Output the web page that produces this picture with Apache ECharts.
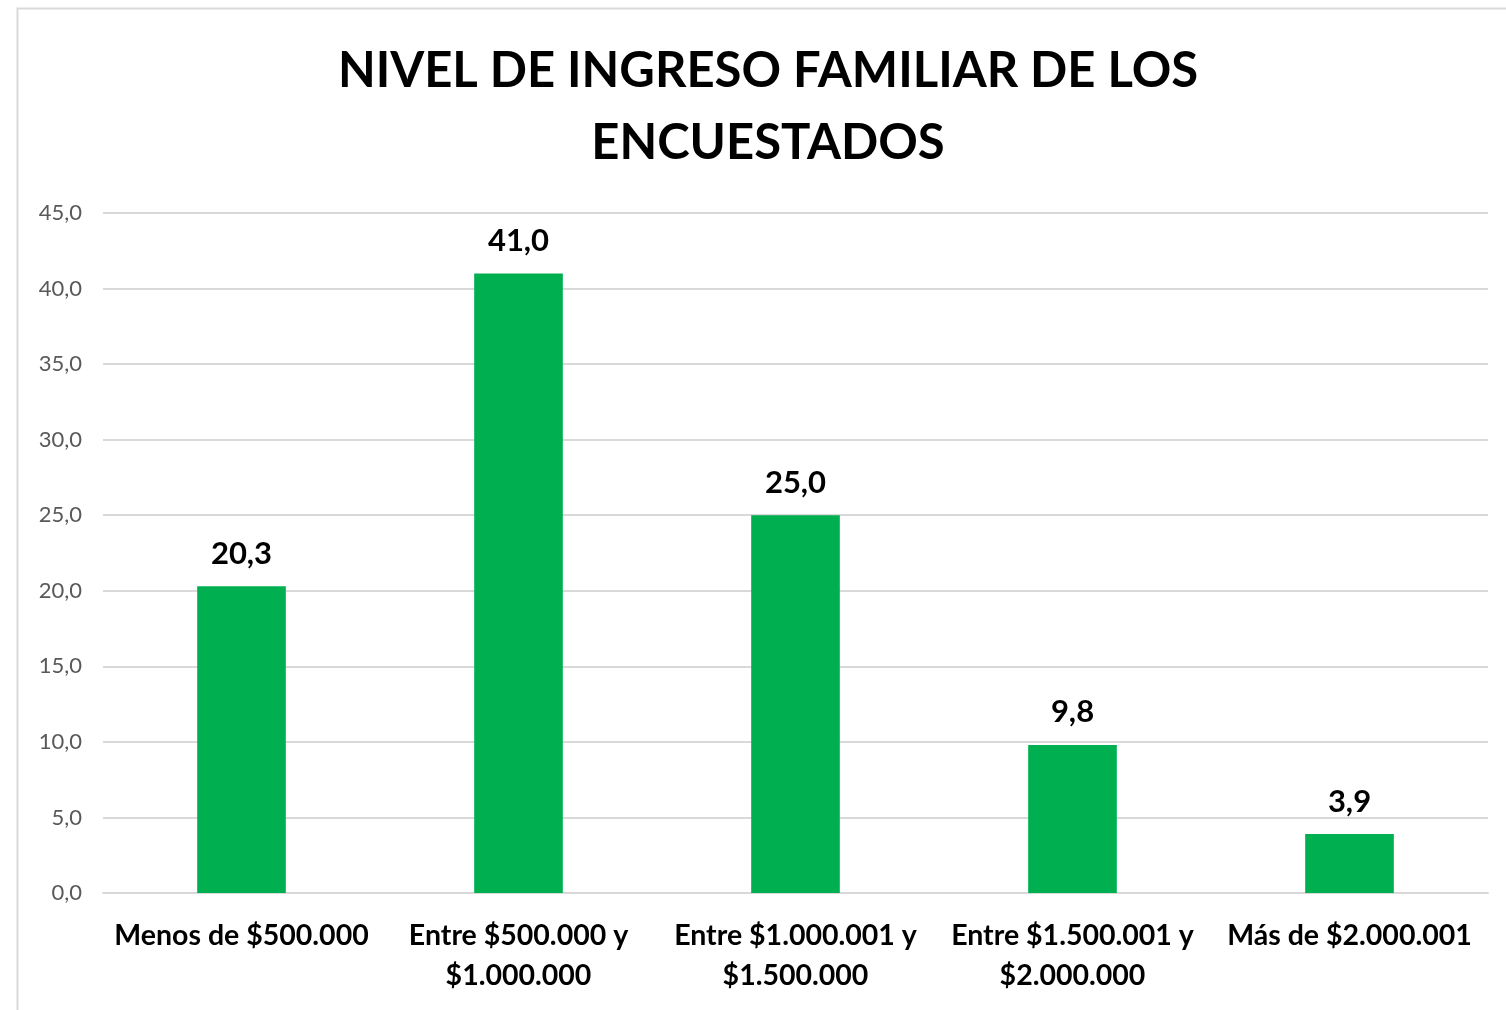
<!DOCTYPE html>
<html><head><meta charset="utf-8">
<script src="https://cdn.jsdelivr.net/npm/echarts@6/dist/echarts.min.js"></script>
<style>html,body{margin:0;padding:0;background:#fff;}#c{width:1506px;height:1010px;}</style>
</head><body><div id="c"></div>
<script>
var titleText = 'NIVEL DE INGRESO FAMILIAR DE LOS\nENCUESTADOS';
var categories = ['Menos de $500.000', 'Entre $500.000 y\n$1.000.000', 'Entre $1.000.001 y\n$1.500.000', 'Entre $1.500.001 y\n$2.000.000', 'Más de $2.000.001'];
var values = [20.3, 41.0, 25.0, 9.8, 3.9];
var yMin = 0, yMax = 45, yStep = 5;

var FONT = 'Lato, "Open Sans", sans-serif';
function fmt(v){ return v.toFixed(1).replace('.', ','); }
var chart = echarts.init(document.getElementById('c'), null, {renderer:'canvas'});
chart.setOption({
  animation:false,
  backgroundColor:'#fff',
  graphic:[{type:'rect', left:15, top:6, shape:{width:1600, height:1100}, style:{fill:'none', stroke:'#d9d9d9', lineWidth:2}, silent:true}],
  title:{text:titleText, left:763, textAlign:'center', top:30, textStyle:{fontFamily:FONT, fontWeight:'bold', fontSize:49, color:'#000', lineHeight:72}},
  grid:{left:103, right:18, top:213, bottom:117, containLabel:false},
  xAxis:{type:'category', data:categories,
    axisLine:{show:true, lineStyle:{color:'#d9d9d9', width:2}}, axisTick:{show:false},
    axisLabel:{interval:0, margin:23, fontFamily:FONT, fontWeight:'bold', fontSize:28.5, color:'#000', lineHeight:40}},
  yAxis:{type:'value', min:yMin, max:yMax, interval:yStep,
    axisLine:{show:false}, axisTick:{show:false},
    splitLine:{lineStyle:{color:'#d9d9d9', width:2}},
    axisLabel:{margin:21, fontFamily:FONT, fontSize:22, color:'#595959', formatter:function(v){return fmt(v);}}},
  series:[{type:'bar', data:values, barWidth:'32%', itemStyle:{color:'#00B050'},
    label:{show:true, position:'top', distance:17, fontFamily:FONT, fontWeight:'bold', fontSize:31, color:'#000', formatter:function(p){return fmt(p.value);}}}]
});
</script></body></html>
